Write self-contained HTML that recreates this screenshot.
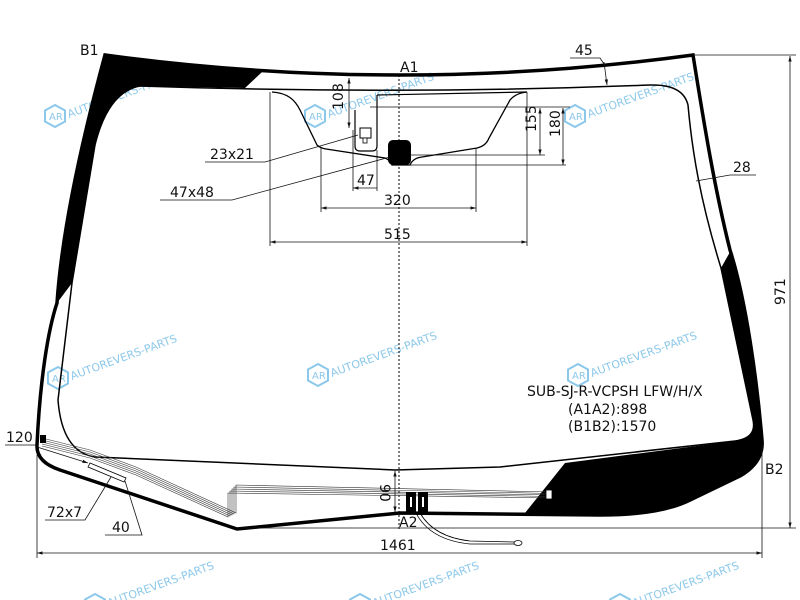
<!DOCTYPE html>
<html><head><meta charset="utf-8"><style>
html,body{margin:0;padding:0;background:#fff;}
svg{display:block;}
text{font-family:"DejaVu Sans","Liberation Sans",sans-serif;fill:#111;}
.wm{fill:#8cc8ea;font-size:11px;}
</style></head><body>
<svg width="800" height="600" viewBox="0 0 800 600" xmlns="http://www.w3.org/2000/svg">
<defs>
<marker id="a" viewBox="0 0 10 10" refX="10" refY="5" markerWidth="7" markerHeight="7" orient="auto-start-reverse"><path d="M0,2 L10,5 L0,8 z" fill="#111"/></marker>
<g id="wmk">
<polygon points="0,-11 10,-5.5 10,5.5 0,11 -10,5.5 -10,-5.5" fill="none" stroke="#8cc8ea" stroke-width="2"/>
<text x="-6" y="4" class="wm" style="font-size:10px">AR</text>
<text x="14" y="2" class="wm" transform="rotate(-20 14 2)">AUTOREVERS-PARTS</text>
</g>
</defs>

<use href="#wmk" x="55" y="116"/>
<use href="#wmk" x="315" y="116"/>
<use href="#wmk" x="575" y="116"/>
<use href="#wmk" x="58" y="378"/>
<use href="#wmk" x="318" y="375"/>
<use href="#wmk" x="578" y="375"/>
<use href="#wmk" x="95" y="605"/>
<use href="#wmk" x="360" y="605"/>
<use href="#wmk" x="620" y="605"/>

<!-- black frit regions -->
<path d="M105,55 Q180,64 262,72 L245,88 L140,86 Q108,92 95,145 L72,283 L57,303 C62,230 82,140 105,55 Z" fill="#000"/>
<path d="M721,268 L730,252 C746,300 757,380 762,440 Q764,462 740,476 L690,500 Q660,515 600,515 L525,513 L565,463 L735,441 Q757,438 753,420 Z" fill="#000"/>

<g fill="none" stroke="#000">
<path d="M105,55 Q400,95 693,55 C705,130 715,190 730,250 C746,300 757,380 762,440 Q764,462 740,476 L690,500 Q660,515 600,515 L400,513 L237,529 L60,470 Q36,462 37,445 C40,380 48,330 57,303 C62,230 82,140 105,55 Z" stroke-width="3.5"/>
<path d="M140,86 Q400,95 650,85 Q683,84 688,105 C692,150 700,200 721,268 L753,420 Q757,438 735,441 L500,467 L395,470 L95,457 Q62,452 58,400 L72,283 L95,145 Q108,92 140,86" stroke-width="1.5"/>
<path d="M272,92 C288,93 295,100 300,110 L317,145 Q320,148 326,149 L385,158 Q390,160 392,165 L410,165 Q413,158 422,157 L477,148 Q486,146 489,138 L510,100 Q516,93 527,92" stroke-width="1.3"/>
<path d="M377,95 L527,92 M377,95 L377,146 Q377,151 372,151 L360,151 Q355,151 355,146 L355,110" stroke-width="1.2"/>
</g>
<rect x="360" y="128" width="11" height="10" fill="#fff" stroke="#000" stroke-width="1"/>
<rect x="363" y="138" width="4" height="5" fill="#fff" stroke="#000" stroke-width="0.8"/>
<rect x="388" y="140" width="23" height="25" rx="5" fill="#000"/>

<line x1="399" y1="75" x2="399" y2="530" stroke="#000" stroke-width="1" stroke-dasharray="2,2"/>

<g fill="none" stroke="#333" stroke-width="0.6">
<path d="M42,438 L90,450 L136,467 L236,513 L236,485 L552,492"/>
<path d="M42,440 L90,452 L136,469 L234,514 L234,487 L552,493.5"/>
<path d="M42,442 L90,454 L136,471 L232,515 L232,489 L552,495"/>
<path d="M42,444 L90,456 L136,473 L230,516 L230,491 L552,496.5"/>
<path d="M42,446 L90,458 L136,475 L228,517 L228,493 L552,498"/>
</g>
<rect x="40" y="435" width="6" height="8" fill="#000"/>
<rect x="546" y="490" width="6" height="9" fill="#fff" stroke="#000" stroke-width="0.8"/>
<polygon points="90,463 126,478 124,482 88,467" fill="#fff" stroke="#000" stroke-width="0.8"/>
<rect x="406" y="492" width="10" height="21" fill="#000"/>
<rect x="418" y="492" width="10" height="21" fill="#000"/>
<rect x="410" y="497" width="2" height="10" fill="#fff"/>
<rect x="422" y="497" width="2" height="10" fill="#fff"/>
<path d="M416,513 Q430,540 470,544 L515,544 M420,513 Q434,537 470,541 L515,542" fill="none" stroke="#000" stroke-width="0.8"/>
<ellipse cx="518" cy="543" rx="4" ry="2.5" fill="#fff" stroke="#000" stroke-width="0.8"/>

<g stroke="#111" stroke-width="0.8" fill="none">
<line x1="349" y1="78" x2="349" y2="128" marker-start="url(#a)" marker-end="url(#a)"/>
<line x1="370" y1="107" x2="570" y2="107"/>
<line x1="540" y1="108" x2="540" y2="155" marker-start="url(#a)" marker-end="url(#a)"/>
<line x1="410" y1="155" x2="545" y2="155"/>
<line x1="563" y1="108" x2="563" y2="165" marker-start="url(#a)" marker-end="url(#a)"/>
<line x1="410" y1="165" x2="566" y2="165"/>
<line x1="353" y1="130" x2="353" y2="191"/>
<line x1="377" y1="150" x2="377" y2="191"/>
<line x1="353" y1="188" x2="377" y2="188" marker-start="url(#a)"/>
<line x1="321" y1="148" x2="321" y2="212"/>
<line x1="476" y1="148" x2="476" y2="212"/>
<line x1="321" y1="208" x2="476" y2="208" marker-start="url(#a)" marker-end="url(#a)"/>
<line x1="270" y1="92" x2="270" y2="246"/>
<line x1="527" y1="92" x2="527" y2="246"/>
<line x1="270" y1="242" x2="527" y2="242" marker-start="url(#a)" marker-end="url(#a)"/>
<line x1="693" y1="55" x2="796" y2="55"/>
<line x1="790" y1="56" x2="790" y2="528" marker-start="url(#a)" marker-end="url(#a)"/>
<line x1="240" y1="528" x2="796" y2="528"/>
<line x1="762" y1="445" x2="762" y2="558"/>
<line x1="37" y1="455" x2="37" y2="558"/>
<line x1="37" y1="553" x2="762" y2="553" marker-start="url(#a)" marker-end="url(#a)"/>
<line x1="395" y1="471" x2="395" y2="512" marker-start="url(#a)" marker-end="url(#a)"/>
<polyline points="570,58 600,58 604,64"/>
<line x1="604" y1="62" x2="607" y2="85" marker-end="url(#a)"/>
<polyline points="756,175 730,175 696,181"/>
<polyline points="205,162 265,162 358,135"/>
<polyline points="160,200 232,200 390,157"/>
<polyline points="5,445 35,445 38,446"/>
<line x1="37" y1="447" x2="88" y2="463" marker-end="url(#a)"/>
<polyline points="45,520 85,520 111,477"/>
<polyline points="105,535 142,535 125,481"/>
</g>

<g style="font-size:14px">
<text x="80" y="55">B1</text>
<text x="400" y="72">A1</text>
<text x="575" y="55">45</text>
<text x="733" y="172">28</text>
<text x="210" y="159">23x21</text>
<text x="170" y="197">47x48</text>
<text x="357" y="185">47</text>
<text x="384" y="205">320</text>
<text x="384" y="239">515</text>
<text x="343" y="110" transform="rotate(-90 343 110)">108</text>
<text x="536" y="132" transform="rotate(-90 536 132)">155</text>
<text x="560" y="137" transform="rotate(-90 560 137)">180</text>
<text x="785" y="305" transform="rotate(-90 785 305)">971</text>
<text x="765" y="474">B2</text>
<text x="6" y="442">120</text>
<text x="47" y="517">72x7</text>
<text x="112" y="532">40</text>
<text x="399" y="527">A2</text>
<text x="380" y="550">1461</text>
<text x="380" y="484" transform="rotate(90 380 484)">90</text>
<text x="527" y="396">SUB-SJ-R-VCPSH LFW/H/X</text>
<text x="568" y="414">(A1A2):898</text>
<text x="568" y="431">(B1B2):1570</text>
</g>
</svg>
</body></html>
